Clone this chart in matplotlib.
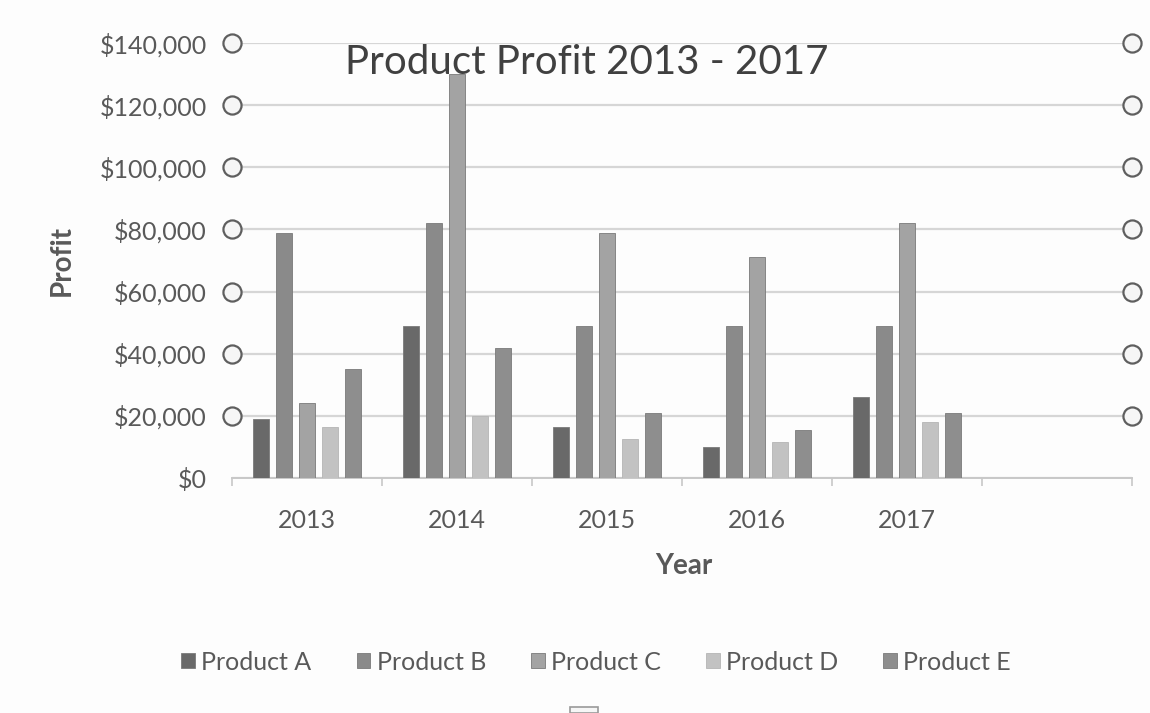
import matplotlib.pyplot as plt
import numpy as np

# data
years = ['2013', '2014', '2015', '2016', '2017', '']
products = ['Product A', 'Product B', 'Product C', 'Product D', 'Product E']
product_a = [19000, 49000, 16500, 10000, 26000]
product_b = [79000, 82000, 49000, 49000, 49000]
product_c = [24000, 130000, 79000, 71000, 82000]
product_d = [16500, 20000, 12500, 11500, 18000]
product_e = [35000, 42000, 21000, 15500, 21000]
colors = ['#696969', '#8a8a8a', '#a3a3a3', '#c2c2c2', '#8e8e8e']
y_ticks = [0, 20000, 40000, 60000, 80000, 100000, 120000, 140000]

plt.rcParams['font.family'] = ['Lato', 'DejaVu Sans']
text_color = '#595959'

fig = plt.figure(figsize=(11.5, 7.13), dpi=100)
fig.patch.set_facecolor('#fdfdfd')
ax = fig.add_axes([232 / 1150, 1 - 478 / 713, 900 / 1150, 435 / 713])
ax.set_facecolor('#fdfdfd')

series = [product_a, product_b, product_c, product_d, product_e]
n = len(product_a)
x = np.arange(n)
pitch = 0.153
for j, (vals, name, col) in enumerate(zip(series, products, colors)):
    ax.bar(x + (j - 2) * pitch, vals, width=0.107, color=col,
           edgecolor='#7a7a7a' if j != 3 else '#b5b5b5', linewidth=0.6,
           label=name, zorder=3)

ax.set_xlim(-0.5, len(years) - 0.5)
ax.set_ylim(0, 140000)
ax.set_yticks(y_ticks)
ax.set_yticklabels(['${:,}'.format(v) for v in y_ticks])
ax.set_xticks(np.arange(len(years)))
ax.set_xticklabels(years)
ax.set_xticks(np.arange(len(years) + 1) - 0.5, minor=True)
ax.tick_params(axis='x', which='major', length=0, pad=22, labelsize=18, labelcolor=text_color)
ax.tick_params(axis='x', which='minor', length=6, color='#c8c8c8', width=1.2)
ax.tick_params(axis='y', length=0, pad=18, labelsize=18, labelcolor=text_color)

ax.grid(axis='y', color='#d6d6d6', linewidth=1.6, zorder=0)
for s in ['left', 'right', 'top']:
    ax.spines[s].set_visible(False)
ax.spines['bottom'].set_color('#c8c8c8')
ax.spines['bottom'].set_linewidth(1.4)

# selection handles along both sides
handle_y = y_ticks[1:]
ax.scatter([-0.5] * len(handle_y), handle_y, s=170, facecolor='#f6f6f6',
           edgecolor='#5f5f5f', linewidth=1.6, clip_on=False, zorder=5)
ax.scatter([len(years) - 0.5] * len(handle_y), handle_y, s=170, facecolor='#f6f6f6',
           edgecolor='#5f5f5f', linewidth=1.6, clip_on=False, zorder=5)

fig.text(587 / 1150, 1 - 63 / 713, 'Product Profit 2013 - 2017', ha='center', va='center',
         fontsize=29, color='#404040')
fig.text(62 / 1150, 1 - 260 / 713, 'Profit', rotation=90, ha='center', va='center',
         fontsize=20, fontweight='bold', color=text_color)
fig.text(684 / 1150, 1 - 566 / 713, 'Year', ha='center', va='center',
         fontsize=20, fontweight='bold', color=text_color)

fig.legend(loc='center', bbox_to_anchor=(596 / 1150, 1 - 662 / 713), ncol=5, frameon=False,
           fontsize=18, handlelength=0.55, handleheight=0.55, handletextpad=0.25,
           columnspacing=1.8, labelcolor=text_color)

# small handle at the bottom edge
fig.patches.append(plt.Rectangle((570 / 1150, 0), 28 / 1150, 6 / 713, transform=fig.transFigure,
                                 facecolor='#f6f6f6', edgecolor='#9a9a9a', linewidth=1.2))

fig.savefig('out.png', dpi=100, facecolor=fig.get_facecolor())
